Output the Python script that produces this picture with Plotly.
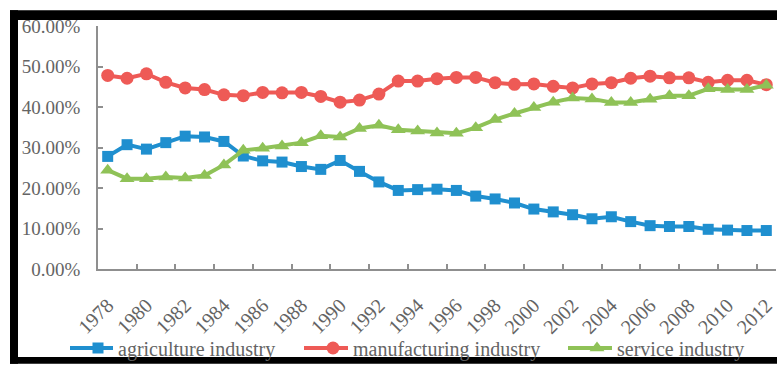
import plotly.graph_objects as go

# Sector shares of output, 1978-2012 (percent)
years = list(range(1978, 2013))

agriculture = [27.8, 30.7, 29.6, 31.2, 32.8, 32.6, 31.5, 27.9, 26.7, 26.4,
               25.3, 24.6, 26.8, 24.1, 21.5, 19.4, 19.6, 19.7, 19.4, 18.0,
               17.3, 16.3, 14.8, 14.1, 13.4, 12.4, 12.9, 11.7, 10.7, 10.5,
               10.5, 9.8, 9.6, 9.5, 9.5]

manufacturing = [47.8, 47.1, 48.2, 46.1, 44.7, 44.3, 43.0, 42.8, 43.6, 43.5,
                 43.6, 42.6, 41.2, 41.7, 43.2, 46.4, 46.4, 47.0, 47.3, 47.3,
                 46.0, 45.6, 45.7, 45.1, 44.7, 45.7, 46.0, 47.1, 47.6, 47.2,
                 47.2, 46.1, 46.6, 46.6, 45.5]

service = [24.4, 22.3, 22.3, 22.7, 22.5, 23.1, 25.7, 29.3, 29.8, 30.4,
           31.2, 32.9, 32.6, 34.7, 35.5, 34.4, 34.1, 33.6, 33.5, 34.9,
           36.9, 38.4, 39.9, 41.2, 42.2, 42.0, 41.1, 41.1, 41.9, 42.8,
           42.8, 44.5, 44.3, 44.3, 45.4]

series_names = ["agriculture industry", "manufacturing industry", "service industry"]
y_ticks = [0, 10, 20, 30, 40, 50, 60]
label_years = list(range(1978, 2013, 2))
boundary_ticks = [y + 0.5 for y in range(1979, 2012, 2)]

W, H = 777, 368
L, R, T, B = 98, 1, 26, 96
PW, PH = W - L - R, H - T - B

def px_x(p):
    return (p - L) / PW

def px_y(p):
    return (H - B - p) / PH

TEXT = "#646464"
AXIS = "#8f8f8f"
FONT = "Liberation Serif"
COLORS = ["#1f8fcf", "#ee5a56", "#8fc257"]
SYMBOLS = ["square", "circle", "triangle-up"]
SIZES = [11, 13, 13]
SERIES = [agriculture, manufacturing, service]
LEGENDS = ["legend", "legend2", "legend3"]

fig = go.Figure()
for name, vals, col, sym, sz, lg in zip(series_names, SERIES, COLORS, SYMBOLS, SIZES, LEGENDS):
    fig.add_trace(go.Scatter(
        x=years, y=vals, name=name, mode="lines+markers", legend=lg,
        line=dict(color=col, width=4),
        marker=dict(symbol=sym, size=sz, color=col),
    ))

# black frame pieces (top, left, bottom)
frame = [
    (10, 10, 777, 20),
    (10, 10, 18, 368),
    (10, 361, 777, 368),
]
shapes = []
for x0, y0, x1, y1 in frame:
    shapes.append(dict(type="rect", xref="paper", yref="paper",
                       x0=px_x(x0), x1=px_x(x1), y0=px_y(y0), y1=px_y(y1),
                       fillcolor="black", line=dict(width=0), layer="above"))

# legend entries: text start (px); key lines reach further left
legend_text_x = [118, 353, 617]
legend_key_x = [70, 304, 568]
legend_y = 352
legend_cfg = {}
for lg, tx, kx, col in zip(LEGENDS, legend_text_x, legend_key_x, COLORS):
    legend_cfg[lg] = dict(
        x=px_x(tx - 40), xanchor="left", y=px_y(legend_y), yanchor="middle",
        orientation="h", font=dict(family=FONT, size=20, color=TEXT),
        bgcolor="rgba(0,0,0,0)", itemwidth=30,
    )
    shapes.append(dict(type="line", xref="paper", yref="paper",
                       x0=px_x(kx), x1=px_x(tx - 30), y0=px_y(legend_y), y1=px_y(legend_y),
                       line=dict(color=col, width=4)))

fig.update_layout(
    width=W, height=H,
    margin=dict(l=L, r=R, t=T, b=B, pad=0),
    paper_bgcolor="white", plot_bgcolor="white",
    font=dict(family=FONT, size=20, color=TEXT),
    showlegend=True,
    shapes=shapes,
    xaxis=dict(
        range=[1977.5, 2012.5], tickmode="array", tickvals=label_years,
        ticktext=[str(y) for y in label_years], tickangle=-45,
        ticks="", showgrid=False, zeroline=False,
        showline=True, linecolor=AXIS, linewidth=1.5,
        ticklabelstandoff=15,
        tickfont=dict(family=FONT, size=20, color=TEXT),
        minor=dict(tickmode="array", tickvals=boundary_ticks, ticks="inside",
                   ticklen=5, tickcolor=AXIS, tickwidth=1.5, showgrid=False),
    ),
    yaxis=dict(
        range=[0, 60], tickmode="array", tickvals=y_ticks,
        ticktext=[f"{v:.2f}%" for v in y_ticks],
        ticks="inside", ticklen=5, tickcolor=AXIS, tickwidth=1.5,
        showgrid=False, zeroline=False,
        showline=True, linecolor=AXIS, linewidth=1.5,
        ticklabelstandoff=12,
        tickfont=dict(family=FONT, size=19, color=TEXT),
    ),
    **legend_cfg,
)

fig.write_html("out.html")
